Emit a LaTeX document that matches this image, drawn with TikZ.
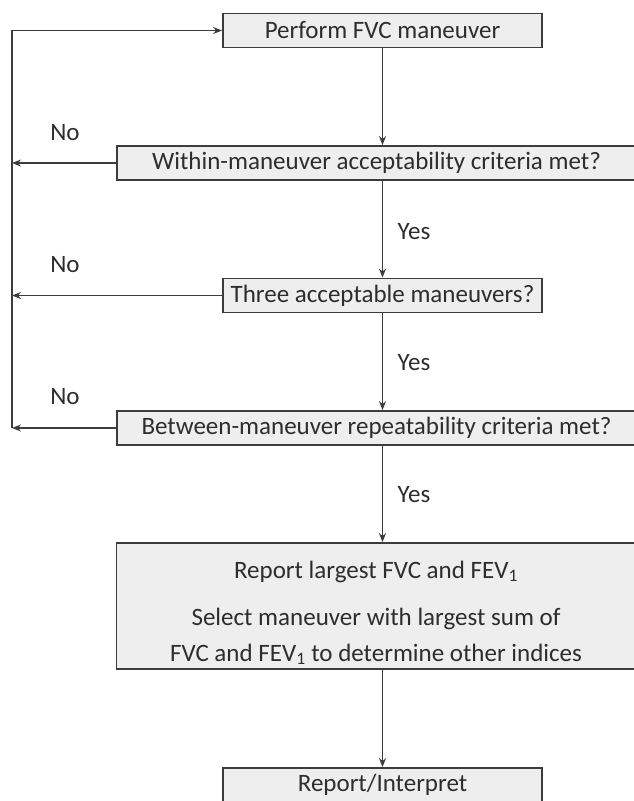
\documentclass[tikz,border=0pt]{standalone}
\usepackage{fontspec}
\setmainfont{Carlito}
\usepackage{xcolor}
\usetikzlibrary{positioning,arrows.meta}
\definecolor{boxgray}{RGB}{238,238,238}
\definecolor{linegray}{RGB}{60,60,60}
\definecolor{textgray}{RGB}{45,45,45}

\begin{document}
\begin{tikzpicture}[
        x=1pt, y=-1pt,
        box/.style={rectangle, draw=linegray, fill=boxgray, line width=1.8pt,
                   text=textgray, font=\fontsize{25}{30}\selectfont, inner sep=0pt},
        shortbox/.style={box, minimum width=319pt, minimum height=34pt},
        longbox/.style={box, minimum width=519pt, minimum height=34pt},
        lbl/.style={text=textgray, font=\fontsize{25}{30}\selectfont},
        arrow/.style={-{Stealth[length=9pt,width=7pt]}, line width=1.9pt, linegray}
    ]
        \useasboundingbox (0,0) rectangle (634,801);
        \begin{scope}
        \clip (0,0) rectangle (634,801);
        % boxes
        \node[shortbox] (perform) at (382.5,30.5) {Perform FVC maneuver};
        \node[longbox] (within) at (376.5,163) {Within-maneuver acceptability criteria met?};
        \node[shortbox] (three) at (382.5,295.5) {Three acceptable maneuvers?};
        \node[longbox] (between) at (376.5,428) {Between-maneuver repeatability criteria met?};
        \node[longbox, minimum height=126pt, align=center] (report) at (376,606)
            {\rule{0pt}{31pt}Report largest FVC and FEV\textsubscript{1}\\[17pt]
             Select maneuver with largest sum of\\[6pt]
             FVC and FEV\textsubscript{1} to determine other indices};
        \node[shortbox] (interpret) at (382.5,785) {Report/Interpret};

        % labels
        \node[lbl] (no1) at (65,133) {No};
        \node[lbl] (no2) at (65,265) {No};
        \node[lbl] (no3) at (65,397) {No};
        \node[lbl] (yes1) at (414,232) {Yes};
        \node[lbl] (yes2) at (414,363) {Yes};
        \node[lbl] (yes3) at (414,495) {Yes};

        % return line on the left
        \coordinate (lft) at (12,0);

        % arrows down
        \draw[arrow] (perform.south) -- (perform.south |- within.north);
        \draw[arrow] (perform.south |- within.south) -- (three.north);
        \draw[arrow] (three.south) -- (three.south |- between.north);
        \draw[arrow] (three.south |- between.south) -- (three.south |- report.north);
        \draw[arrow] (three.south |- report.south) -- (interpret.north);

        % arrows back
        \draw[arrow] (within.west) -- (within.west -| lft);
        \draw[arrow] (three.west) -- (three.west -| lft);
        \draw[arrow] (between.west) -- (between.west -| lft);
        \draw[arrow] (between.west -| lft) |- (perform.west);
        \end{scope}
    \end{tikzpicture}
\end{document}
